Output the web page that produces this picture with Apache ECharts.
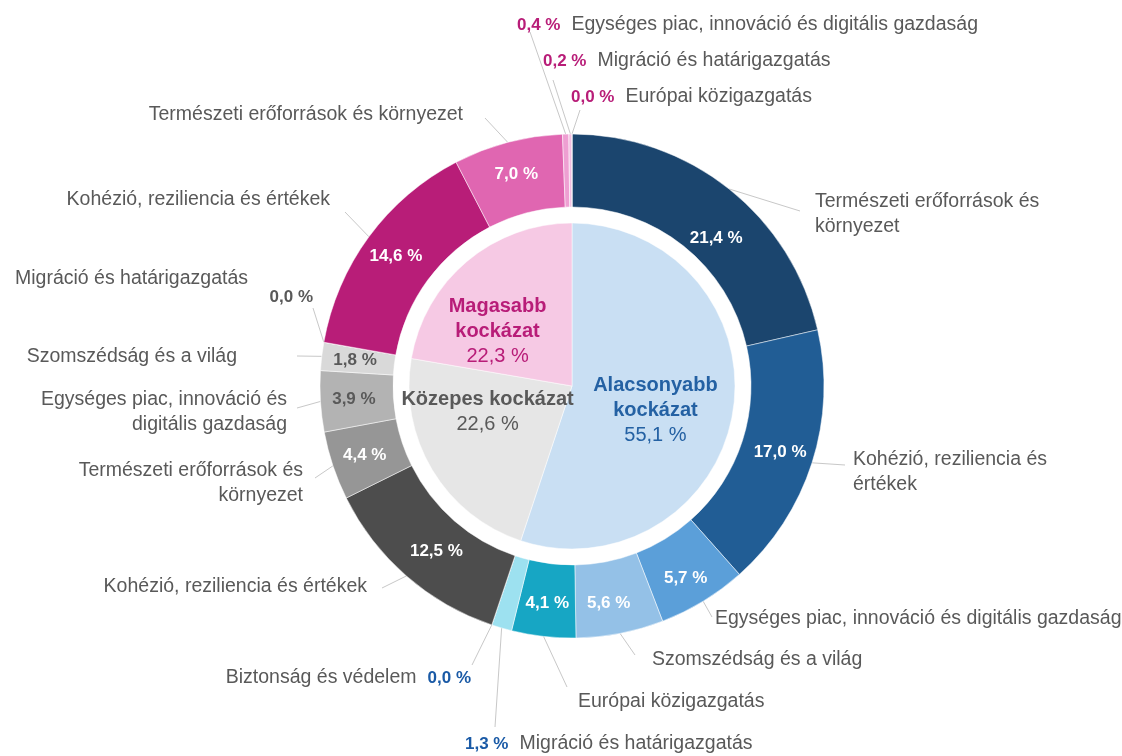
<!DOCTYPE html>
<html>
<head>
<meta charset="utf-8">
<script src="https://cdn.jsdelivr.net/npm/echarts@6/dist/echarts.min.js"></script>
<style>
  html, body { margin: 0; padding: 0; background: #fff; }
  #chart { width: 1122px; height: 756px; }
</style>
</head>
<body>
<div id="chart"></div>
<script>
// inner pie: risk groups
const riskNames = ['Alacsonyabb\nkockázat', 'Közepes kockázat', 'Magasabb\nkockázat'];
const riskValues = [55.1, 22.6, 22.3];

// outer ring: headings in each risk group, clockwise from 12 o'clock
const headingNames = [
  'Természeti erőforrások és\nkörnyezet',
  'Kohézió, reziliencia és\nértékek',
  'Egységes piac, innováció és digitális gazdaság',
  'Szomszédság és a világ',
  'Európai közigazgatás',
  'Migráció és határigazgatás',
  'Biztonság és védelem',
  'Kohézió, reziliencia és értékek',
  'Természeti erőforrások és\nkörnyezet',
  'Egységes piac, innováció és\ndigitális gazdaság',
  'Szomszédság és a világ',
  'Migráció és határigazgatás',
  'Kohézió, reziliencia és értékek',
  'Természeti erőforrások és környezet',
  'Egységes piac, innováció és digitális gazdaság',
  'Migráció és határigazgatás',
  'Európai közigazgatás'
];
const headingValues = [21.4, 17.0, 5.7, 5.6, 4.1, 1.3, 0.0, 12.5, 4.4, 3.9, 1.8, 0.0, 14.6, 7.0, 0.4, 0.2, 0.0];
const headingGroup = [0, 0, 0, 0, 0, 0, 0, 1, 1, 1, 1, 1, 2, 2, 2, 2, 2];

// styles
const riskColors = ['#c9dff3', '#e6e6e6', '#f6c9e4'];
const riskTextColors = ['#2461a3', '#595959', '#b81d78'];
const headingColors = ['#1b456e', '#215d95', '#5b9fd9', '#94c1e7', '#17a6c4', '#9de1f0', '#9de1f0',
  '#4d4d4d', '#969696', '#b3b3b3', '#d9d9d9', '#d9d9d9',
  '#b81d78', '#e066b1', '#ee9fd2', '#f3bde0', '#8c6bb1'];
const darkValueText = [9, 10];   // values written in grey instead of white
// value shown next to the name instead of inside the slice
const outsideValue = { 5: 'before', 6: 'after', 11: 'below', 14: 'before', 15: 'before', 16: 'before' };

// small nudges of the labels inside the slices: [dx, dy]
const riskLabelShift = [[0, 11], [-12, -17], [-20, 10]];
const ringLabelShift = { 0: [8, 23], 2: [0, 6], 3: [-5, 3], 7: [8, 1] };

// where the name labels sit: [x, y, align, line end dx, line end dy]
const labelAt = [
  [815, 214, 'left', -15, -3],
  [853, 472, 'left', -8, -7],
  [715, 619, 'left', -3, -2],
  [652, 660, 'left', -17, -5],
  [578, 702, 'left', -11, -15],
  [465, 744, 'left', 30, -17],
  [471, 678, 'right', 1, -13],
  [367, 587, 'right', 15, 1],
  [303, 483, 'right', 12, -5],
  [287, 412, 'right', 10, -4],
  [237, 357, 'right', 60, -1],
  [313, 288, 'right', 0, 20],
  [330, 200, 'right', 15, 12],
  [463, 115, 'right', 22, 3],
  [517, 25, 'left', 13, 7],
  [543, 61, 'left', 10, 19],
  [571, 97, 'left', 9, 13]
];

const CENTER = [572, 386];
const FONT = 'Liberation Sans, Arial, sans-serif';

function pct(v) {
  return v.toFixed(1).replace('.', ',') + ' %';
}

const innerData = riskNames.map((n, i) => ({
  name: n,
  value: riskValues[i],
  itemStyle: { color: riskColors[i] },
  label: {
    formatter: n.split('\n').map(s => '{b' + i + '|' + s + '}').join('\n') + '\n{r' + i + '|' + pct(riskValues[i]) + '}'
  }
}));

const innerRich = {};
riskTextColors.forEach((c, i) => {
  innerRich['b' + i] = { fontFamily: FONT, fontSize: 20, fontWeight: 'bold', color: c, lineHeight: 25 };
  innerRich['r' + i] = { fontFamily: FONT, fontSize: 20, color: c, lineHeight: 25 };
});

const ringData = headingValues.map((v, i) => ({
  name: headingNames[i],
  value: v,
  itemStyle: { color: headingColors[i] },
  label: {
    show: outsideValue[i] === undefined,
    color: darkValueText.indexOf(i) >= 0 ? '#595959' : '#ffffff'
  }
}));

const valueColors = ['#1a5aa6', '#595959', '#b81d78'];

const nameData = headingValues.map((v, i) => {
  const name = headingNames[i];
  const vt = '{v' + headingGroup[i] + '|' + pct(v) + '}';
  let text = name;
  if (outsideValue[i] === 'before') text = vt + '{gap|}' + name;
  if (outsideValue[i] === 'after') text = name + '{gap|}' + vt;
  if (outsideValue[i] === 'below') text = '{np|' + name + '}\n' + '{vb|' + pct(v) + '}';
  return { name: name, value: v, label: { formatter: text } };
});

const nameRich = {
  gap: { width: 11 },
  np: { fontFamily: FONT, fontSize: 19.5, color: '#595959', padding: [0, 65, 0, 0], lineHeight: 18 },
  vb: { fontFamily: FONT, fontSize: 17, fontWeight: 'bold', color: '#595959', lineHeight: 18 }
};
valueColors.forEach((c, i) => {
  nameRich['v' + i] = { fontFamily: FONT, fontSize: 17, fontWeight: 'bold', color: c };
});

const chart = echarts.init(document.getElementById('chart'));
chart.setOption({
  backgroundColor: '#ffffff',
  animation: false,
  series: [
    {
      type: 'pie',
      center: CENTER,
      radius: [0, 163],
      silent: true,
      label: { show: true, position: 'inside', rich: innerRich },
      labelLine: { show: false },
      labelLayout: function (params) {
        const s = riskLabelShift[params.dataIndex];
        return { dx: s[0], dy: s[1] };
      },
      itemStyle: { borderColor: '#ffffff', borderWidth: 0.5 },
      data: innerData
    },
    {
      type: 'pie',
      center: CENTER,
      radius: [179, 252],
      silent: true,
      label: {
        position: 'inside',
        fontFamily: FONT,
        fontSize: 17,
        fontWeight: 'bold',
        formatter: p => pct(p.value)
      },
      labelLine: { show: false },
      labelLayout: function (params) {
        const s = ringLabelShift[params.dataIndex];
        return s ? { dx: s[0], dy: s[1] } : {};
      },
      itemStyle: { borderColor: '#ffffff', borderWidth: 0.5 },
      data: ringData
    },
    {
      type: 'pie',
      center: CENTER,
      radius: [179, 252],
      silent: true,
      avoidLabelOverlap: false,
      itemStyle: { color: 'transparent', borderWidth: 0 },
      label: {
        show: true,
        position: 'outside',
        fontFamily: FONT,
        fontSize: 19.5,
        color: '#595959',
        lineHeight: 25,
        rich: nameRich
      },
      labelLine: { show: true, length: 10, length2: 10, lineStyle: { color: '#c8c8c8', width: 1 } },
      labelLayout: function (params) {
        const a = labelAt[params.dataIndex];
        const end = [a[0] + a[3], a[1] + a[4]];
        const out = { x: a[0], y: a[1], align: a[2], verticalAlign: 'middle' };
        if (params.labelLinePoints) {
          const start = params.labelLinePoints[0];
          out.labelLinePoints = [start, end, end];
        }
        return out;
      },
      data: nameData
    }
  ]
});
</script>
</body>
</html>
